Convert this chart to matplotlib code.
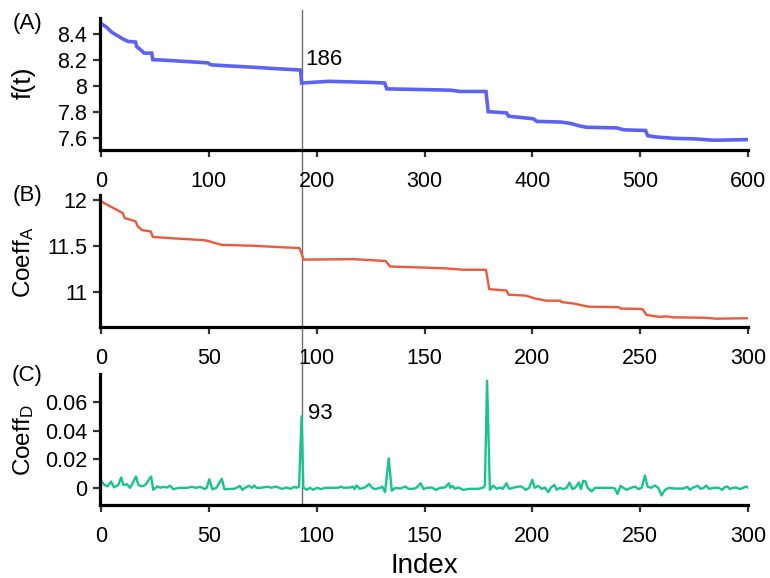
import matplotlib
matplotlib.use("Agg")
import matplotlib.pyplot as plt
from matplotlib.lines import Line2D
from matplotlib.ticker import FuncFormatter

plt.rcParams['font.family'] = ['Liberation Sans', 'DejaVu Sans']
plt.rcParams['mathtext.default'] = 'regular'

# Panel A: f(t) over index 0..600
a_x = [0, 5, 10, 20, 25, 32, 33, 36, 38, 40, 47, 48, 60, 70, 99, 102, 111, 144, 163, 185,
       186, 211, 250, 263, 265, 296, 324, 333, 357, 359, 376, 378, 395, 401, 404, 426,
       435, 444, 450, 478, 485, 505, 507, 515, 531, 552, 568, 600]
a_y = [8.477, 8.45, 8.41, 8.36, 8.34, 8.335, 8.30, 8.28, 8.265, 8.25, 8.25, 8.20, 8.195,
       8.19, 8.175, 8.16, 8.155, 8.14, 8.13, 8.12, 8.02, 8.033, 8.025, 8.02, 7.975, 7.97,
       7.965, 7.955, 7.955, 7.80, 7.79, 7.765, 7.75, 7.745, 7.725, 7.72, 7.71, 7.69, 7.68,
       7.675, 7.66, 7.655, 7.615, 7.605, 7.595, 7.59, 7.58, 7.585]

# Panel B: Coeff_A over index 0..300
b_x = [0, 4, 10, 11, 16, 17, 19, 23, 24, 34, 48, 50, 52, 56, 70, 92, 94, 117, 132, 134,
       148, 160, 168, 178.5, 180, 188, 189, 197, 201, 206.5, 213, 213.5, 219, 226, 240,
       241, 251, 253, 259, 262, 265, 279, 285.5, 300]
b_y = [11.98, 11.93, 11.855, 11.80, 11.765, 11.71, 11.67, 11.655, 11.595, 11.58, 11.56,
       11.55, 11.535, 11.51, 11.50, 11.475, 11.35, 11.355, 11.335, 11.275, 11.265, 11.255,
       11.24, 11.24, 11.03, 11.015, 10.97, 10.96, 10.93, 10.905, 10.905, 10.89, 10.875,
       10.84, 10.835, 10.82, 10.815, 10.75, 10.73, 10.735, 10.725, 10.72, 10.71, 10.715]

# Panel C: Coeff_D over index 0..300
c_x = [0, 1.5, 3, 4.6, 6, 8, 9.3, 10.4, 12, 13.5, 16.2, 17.3, 19, 20.5, 23.2, 24.2, 26,
       27.5, 29, 30.5, 32, 33.5, 36, 40, 42, 44, 46, 48, 49, 50.2, 51.6, 53.5, 56, 57.2,
       62, 64.4, 65.5, 67, 68.5, 70, 71.1, 72, 74, 76, 77.5, 79, 81, 82.5, 84, 86, 88,
       89.5, 90.5, 91.8, 93, 93.8, 95.4, 96.9, 98.4, 100, 102, 103.8, 110, 111.1, 112.5,
       115.5, 116.7, 117.5, 118.5, 120, 122, 124.4, 125.5, 127, 129.4, 130.4, 131.7, 133.4,
       134.8, 136.4, 138.7, 141.2, 142.5, 144.7, 146.2, 148.2, 149.5, 151, 153.4, 155.3,
       157.2, 159.4, 161.3, 162, 163, 164, 165.7, 168, 171, 175, 177.3, 178, 179, 180.3,
       181.9, 183.4, 185, 186.3, 188, 189.3, 191, 193.5, 195, 197, 198.5, 200, 201.1,
       202.7, 204.3, 205.8, 207.4, 208.6, 210.2, 211.3, 212.8, 214.3, 215.9, 217.2, 218.6,
       219.8, 221.6, 222.5, 223.6, 224.7, 225.6, 227.5, 229, 237, 238.3, 239.5, 240.9, 242,
       243.7, 245.7, 247.6, 249.1, 250.7, 252.2, 253.4, 255, 256.8, 258.4, 259.9, 261.5,
       263.3, 266, 270, 271.9, 273, 274.6, 276.7, 278, 279.5, 280.7, 281.9, 284, 286.4,
       288, 289.3, 290.5, 291.6, 293, 294.6, 296.2, 297.7, 299.3, 300]
c_y = [0.005, 0.002, 0.001, 0.0044, 0.0003, 0.002, 0.0072, 0.002, 0.0025, 0.0, 0.0079,
       0.002, 0.001, 0.002, 0.0079, -0.0014, 0.001, 0.0, 0.0007, 0.0002, 0.0015, -0.001,
       0.0, 0.0, 0.0007, 0.0, 0.0007, -0.0009, 0.0, 0.006, -0.001, 0.0, 0.0063, -0.001,
       -0.0006, 0.0013, -0.0014, 0.0002, 0.0014, 0.0, 0.0016, 0.0, 0.0, 0.0005, 0.0007,
       0.0, 0.0009, 0.0, -0.0007, 0.0002, -0.0007, 0.0007, 0.0, 0.0009, 0.05, 0.0002,
       -0.0014, 0.0, -0.0014, 0.0, -0.0009, 0.0, 0.0, 0.0009, 0.0, 0.0002, 0.0009, -0.0009,
       0.0016, -0.0007, 0.0, 0.0026, 0.0002, -0.0009, 0.0, 0.0009, -0.003, 0.0206, -0.002,
       0.0, -0.0005, 0.0009, -0.0007, -0.0007, 0.0, 0.0032, -0.0009, 0.0, 0.0002, -0.0014,
       0.0, 0.0002, 0.0032, 0.0, 0.0014, -0.0007, 0.0002, -0.0014, -0.0007, -0.0007,
       0.0002, 0.002, 0.0748, -0.0014, 0.0016, -0.0007, 0.0002, -0.0007, 0.0032, -0.0007,
       0.0, 0.0009, 0.0009, -0.0014, 0.0, 0.0056, 0.0, 0.0014, -0.0007, 0.0002, -0.003,
       0.0002, 0.002, -0.0014, 0.0, -0.0009, 0.0, 0.0037, -0.0009, 0.0, 0.0037, -0.0009,
       0.0049, 0.0044, 0.0, -0.0025, 0.0, 0.0, -0.0005, -0.0044, 0.0014, 0.0002, -0.0014,
       0.0, 0.0009, -0.0009, 0.0, 0.0086, 0.0009, 0.0, 0.0016, 0.0, -0.0053, -0.0014, 0.0,
       -0.0005, -0.0005, 0.0007, -0.0014, 0.0002, 0.0014, -0.0007, 0.0, 0.0016, -0.0007,
       0.0, 0.0, -0.0014, 0.0005, 0.0009, -0.0009, 0.0, 0.0002, -0.0009, 0.0, 0.0009, 0.0]

a_ticks = [0, 100, 200, 300, 400, 500, 600]
bc_ticks = [0, 50, 100, 150, 200, 250, 300]
a_yticks = [7.6, 7.8, 8.0, 8.2, 8.4]
b_yticks = [11.0, 11.5, 12.0]
c_yticks = [0.0, 0.02, 0.04, 0.06]
a_change = 186
bc_change = 93

W, H = 770, 578
fig = plt.figure(figsize=(W / 100, H / 100), dpi=100)

def px_rect(left, top, right, bottom):
    return [left / W, 1 - bottom / H, (right - left) / W, (bottom - top) / H]

axA = fig.add_axes(px_rect(100, 18, 748, 150))
axB = fig.add_axes(px_rect(100, 195, 748, 327))
axC = fig.add_axes(px_rect(100, 374, 748, 505))

axA.plot(a_x, a_y, color='#5c63f2', lw=2.6, solid_joinstyle='miter')
axB.plot(b_x, b_y, color='#ec5a3d', lw=1.7)
axC.plot(c_x, c_y, color='#17c48d', lw=1.7)

axA.set_xlim(-1, 600)
axA.set_ylim(7.505, 8.52)
axB.set_xlim(-0.5, 300)
axB.set_ylim(10.62, 12.05)
axC.set_xlim(-0.5, 300)
axC.set_ylim(-0.012, 0.0795)

axA.set_xticks(a_ticks)
axB.set_xticks(bc_ticks)
axC.set_xticks(bc_ticks)
axA.set_yticks(a_yticks)
axB.set_yticks(b_yticks)
axC.set_yticks(c_yticks)

fmt = FuncFormatter(lambda v, p: ('%g' % round(v, 4)))
for ax in (axA, axB, axC):
    ax.yaxis.set_major_formatter(fmt)
    ax.xaxis.set_major_formatter(fmt)
    for s in ('top', 'right'):
        ax.spines[s].set_visible(False)
    for s in ('left', 'bottom'):
        ax.spines[s].set_linewidth(2.3)
    ax.tick_params(axis='both', length=5, width=1.6, labelsize=15.5, color='#333333')
    ax.tick_params(axis='x', pad=10)
    ax.tick_params(axis='y', pad=4)
    ax.patch.set_alpha(0)

axA.text(189, 8.2, str(a_change), ha='left', va='center', fontsize=16)
axC.text(96, 0.052, str(bc_change), ha='left', va='center', fontsize=16)

# vertical marker line spanning all panels
xA_disp = axA.transData.transform((a_change, 0))[0]
xf = fig.transFigure.inverted().transform((xA_disp, 0))[0]
fig.add_artist(Line2D([xf, xf], [1 - 10 / H, 1 - 503 / H], transform=fig.transFigure,
                      color='#707070', lw=1.0, zorder=0))

fig.text(27 / W, 1 - 24 / H, '(A)', ha='center', va='center', fontsize=16)
fig.text(27 / W, 1 - 195 / H, '(B)', ha='center', va='center', fontsize=16)
fig.text(27 / W, 1 - 375 / H, '(C)', ha='center', va='center', fontsize=16)

fig.text(24 / W, 1 - 83 / H, 'f(t)', rotation=90, ha='center', va='center', fontsize=19)
fig.text(24 / W, 1 - 262 / H, r'Coeff$_{A}$', rotation=90, ha='center', va='center', fontsize=17.5)
fig.text(24 / W, 1 - 440 / H, r'Coeff$_{D}$', rotation=90, ha='center', va='center', fontsize=17.5)

fig.text(424 / W, 1 - 566 / H, 'Index', ha='center', va='center', fontsize=20)

fig.savefig('out.png', dpi=100)
